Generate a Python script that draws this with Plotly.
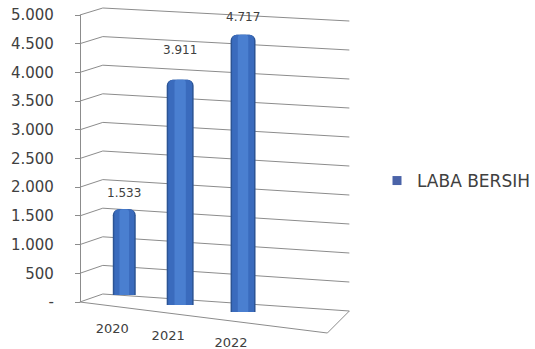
import plotly.graph_objects as go

# ---- data -------------------------------------------------------------
years = ["2020", "2021", "2022"]
laba_bersih = [1533, 3911, 4717]
series_name = "LABA BERSIH"
y_ticks = list(range(0, 5001, 500))
y_tick_text = ["-"] + [f"{v:,}".replace(",", ".") for v in y_ticks[1:]]
Y_MAX = 5000

# ---- canvas helpers ---------------------------------------------------
W, H = 535, 349


def fx(x):
    return x / W


def fy(y):
    return 1 - y / H


def thousands(v):
    return f"{v:,}".replace(",", ".")


# perspective frame of the 3-D walls (pixel geometry)
FRONT_X, FRONT_BOTTOM, FRONT_TOP = 80, 302, 15
BACK_L_X, BACK_L_BOTTOM, BACK_L_TOP = 103, 294, 8
BACK_R_X, BACK_R_BOTTOM, BACK_R_TOP = 350, 311, 21
FLOOR_FRONT_RIGHT = (328, 333)

# per-column placement in the perspective view
bar_center = [124.5, 180.5, 243.5]
bar_width = [23, 27, 25]
bar_base = [295, 305, 312]
bar_span = [280, 288, 294]
cat_label_y = [328, 335, 342]
value_lift = [16, 30, 18]
SLOT = 60

GRID = "#8c8c8c"
TEXT = "#404040"
FONT = "DejaVu Sans"


def level(bottom, top, v):
    return bottom + (top - bottom) * v / Y_MAX


shapes = []
for v in y_ticks:
    yf = level(FRONT_BOTTOM, FRONT_TOP, v)
    yl = level(BACK_L_BOTTOM, BACK_L_TOP, v)
    yr = level(BACK_R_BOTTOM, BACK_R_TOP, v)
    shapes.append(dict(
        type="path", xref="paper", yref="paper", layer="below",
        path=f"M {fx(FRONT_X)},{fy(yf)} L {fx(BACK_L_X)},{fy(yl)} L {fx(BACK_R_X)},{fy(yr)}",
        line=dict(color=GRID, width=1),
    ))
# front and right edges of the floor
fr_x, fr_y = FLOOR_FRONT_RIGHT
shapes.append(dict(
    type="path", xref="paper", yref="paper", layer="below",
    path=f"M {fx(FRONT_X)},{fy(FRONT_BOTTOM)} L {fx(fr_x)},{fy(fr_y)} L {fx(BACK_R_X)},{fy(BACK_R_BOTTOM)}",
    line=dict(color=GRID, width=1),
))

fig = go.Figure()

# legend entry on the value-axis subplot
fig.add_trace(go.Scatter(
    x=[None], y=[None], mode="markers", name=series_name,
    marker=dict(symbol="square", size=9, color="#4a63a8"),
    xaxis="x", yaxis="y", hoverinfo="skip",
))

layers = [
    (0, "#2c5494", 6),
    (3, "#3a6bbd", 5),
    (None, "#4a7fd0", 3),
]

annotations = []
layout_axes = {}
for i, (yr, val) in enumerate(zip(years, laba_bersih)):
    n = i + 2
    w = bar_width[i]
    for shrink, color, radius in layers:
        bw = w * 0.42 if shrink is None else w - shrink
        fig.add_trace(go.Bar(
            x=[yr], y=[val], width=[bw / SLOT],
            marker=dict(color=color, line=dict(width=0), cornerradius=radius),
            xaxis=f"x{n}", yaxis=f"y{n}", showlegend=False, hoverinfo="skip",
        ))
    c = bar_center[i]
    layout_axes[f"xaxis{n}"] = dict(
        domain=[fx(c - SLOT / 2), fx(c + SLOT / 2)],
        type="category", range=[-0.5, 0.5],
        anchor="free", position=fy(cat_label_y[i] - 9),
        showline=False, showgrid=False, zeroline=False, ticks="",
        ticklabelshift=-12, automargin=False,
        tickfont=dict(family=FONT, size=13, color=TEXT),
    )
    layout_axes[f"yaxis{n}"] = dict(
        domain=[fy(bar_base[i]), fy(bar_base[i] - bar_span[i])],
        range=[0, Y_MAX], anchor=f"x{n}", automargin=False,
        showline=False, showgrid=False, zeroline=False,
        showticklabels=False, ticks="",
    )
    # value label above the column, index 0 is the column's own category
    annotations.append(dict(
        xref=f"x{n}", yref=f"y{n}", x=0, y=val, yshift=value_lift[i],
        text=thousands(val), showarrow=False,
        font=dict(family=FONT, size=12, color=TEXT),
    ))

fig.update_layout(
    width=W, height=H, autosize=False,
    margin=dict(l=0, r=0, t=0, b=0, pad=0),
    paper_bgcolor="white", plot_bgcolor="rgba(0,0,0,0)",
    barmode="overlay",
    font=dict(family=FONT, color=TEXT),
    xaxis=dict(domain=[0, 1], range=[0, 1], visible=False, automargin=False),
    yaxis=dict(
        domain=[fy(FRONT_BOTTOM), fy(FRONT_TOP)], range=[0, Y_MAX],
        anchor="free", position=fx(FRONT_X), side="left",
        tickmode="array", tickvals=y_ticks, ticktext=y_tick_text,
        ticks="outside", ticklen=5, tickcolor=GRID,
        showline=True, linecolor=GRID, linewidth=1,
        showgrid=False, zeroline=False, automargin=False,
        ticklabelstandoff=18,
        tickfont=dict(family=FONT, size=15, color=TEXT),
    ),
    showlegend=True,
    legend=dict(
        x=fx(378), y=fy(181), xanchor="left", yanchor="middle",
        bgcolor="rgba(0,0,0,0)", font=dict(family=FONT, size=17, color=TEXT),
    ),
    shapes=shapes,
    annotations=annotations,
    **layout_axes,
)

fig.write_html("out.html")
